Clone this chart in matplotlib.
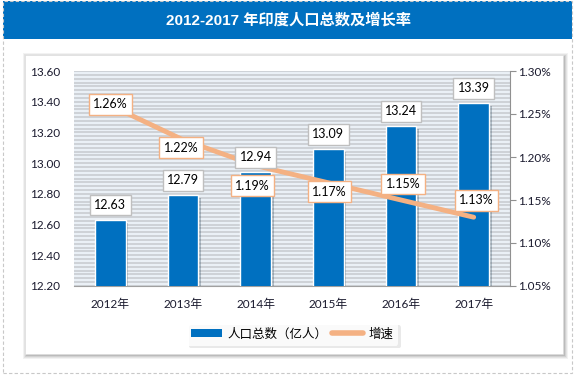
import matplotlib
matplotlib.use("Agg")
import matplotlib.pyplot as plt
from matplotlib.patches import Rectangle, Patch
from matplotlib.lines import Line2D
from matplotlib.ticker import MultipleLocator, FuncFormatter
import matplotlib.patheffects as pe

plt.rcParams['font.family'] = ['Lato', 'Noto Sans CJK SC', 'DejaVu Sans']

years = ['2012年', '2013年', '2014年', '2015年', '2016年', '2017年']
population = [12.63, 12.79, 12.94, 13.09, 13.24, 13.39]
growth = [1.26, 1.22, 1.19, 1.17, 1.15, 1.13]
pop_label = '人口总数（亿人）'
growth_label = '增速'
title = '2012-2017 年印度人口总数及增长率'

BLUE = '#0070C0'
ORANGE = '#F4B183'
W, H = 576, 376

fig = plt.figure(figsize=(W / 100, H / 100), dpi=100)
fig.patch.set_facecolor('white')

def fx(x):
    return x / W

def fy(y):
    return 1 - y / H

# title band
fig.patches.append(Rectangle((fx(3), fy(39)), fx(569), 38 / H, transform=fig.transFigure,
                             facecolor=BLUE, edgecolor='none', zorder=-10))
fig.text(fx(288), fy(20), title, color='white', fontsize=11, fontweight='bold',
         ha='center', va='center', family=['Liberation Sans', 'Noto Sans CJK SC'])
# dashed outer border
fig.patches.append(Rectangle((fx(3), fy(373)), fx(569), 372 / H, transform=fig.transFigure,
                             facecolor='none', edgecolor='#C8C8C8', lw=0.8, ls=(0, (3, 2)), zorder=-10))
# panel shadow
for i, a in enumerate([0.05, 0.06, 0.08, 0.10, 0.12]):
    d = 5 - i
    fig.patches.append(Rectangle((fx(25 - d + 3), fy(354 + d)), fx(538 + 2 * d - 3), (299 + 2 * d - 3) / H,
                                 transform=fig.transFigure, facecolor='#000000', alpha=a,
                                 edgecolor='none', zorder=-9))
fig.patches.append(Rectangle((fx(25), fy(354)), fx(538), 299 / H, transform=fig.transFigure,
                             facecolor='white', edgecolor='#E0E0E0', lw=0.5, zorder=-8))

ax = fig.add_axes([fx(74), fy(286), fx(436), 215 / H])
ax.set_facecolor('#EAF0F6')
x = list(range(len(years)))
bars = ax.bar(x, population, width=0.42, bottom=0, color=BLUE, edgecolor='white', linewidth=1.0,
              zorder=3)
for b in bars:
    b.set_path_effects([pe.SimplePatchShadow(offset=(2, -2), alpha=0.25), pe.Normal()])
ax.set_ylim(12.2, 13.6)
ax.set_xlim(-0.5, 5.5)
ax.yaxis.set_major_locator(MultipleLocator(0.2))
ax.yaxis.set_minor_locator(MultipleLocator(0.025))
ax.yaxis.set_major_formatter(FuncFormatter(lambda v, p: f'{v:.2f}'))
ax.grid(axis='y', which='both', color='#C6CACE', lw=1.1, zorder=1)
ax.set_axisbelow(True)
ax.set_xticks(x)
ax.set_xticklabels(years, fontsize=8.5, color='#1a1a2e')
ax.tick_params(axis='x', length=0, pad=9)
ax.tick_params(axis='y', which='both', length=0, labelsize=8.5, labelcolor='#1a1a2e', pad=10)
for s in ['left', 'top', 'right']:
    ax.spines[s].set_visible(False)
ax.spines['bottom'].set_color('#A0A0A0')

ax2 = ax.twinx()
ax2.plot(x, growth, color=ORANGE, lw=3.5, solid_capstyle='round', zorder=4)
ax2.set_ylim(1.05, 1.30)
ax2.yaxis.set_major_locator(MultipleLocator(0.05))
ax2.yaxis.set_major_formatter(FuncFormatter(lambda v, p: f'{v:.2f}%'))
ax2.tick_params(axis='y', length=4, color='#909090', labelsize=8.5, labelcolor='#1a1a2e', pad=2)
for s in ['left', 'top', 'bottom']:
    ax2.spines[s].set_visible(False)
ax2.spines['right'].set_color('#909090')

# bar labels
for i, v in enumerate(population):
    ax2.annotate(f'{v:.2f}', xy=(i, v), xycoords=ax.transData, xytext=(0, 15),
                 textcoords='offset pixels', ha='center', va='center', fontsize=9, zorder=6,
                 bbox=dict(boxstyle='square,pad=0.35', fc='white', ec='#BFBFBF', lw=1.0))

# line labels
offsets = [(0, 1), (-2, -8), (-3, -20), (1, -9), (2, 16), (3, 17)]
for i, v in enumerate(growth):
    ax2.annotate(f'{v:.2f}%', xy=(i, v), xytext=offsets[i], textcoords='offset pixels',
                 ha='center', va='center', fontsize=9, zorder=6,
                 bbox=dict(boxstyle='square,pad=0.35', fc='white', ec=ORANGE, lw=1.0))

handles = [Patch(facecolor=BLUE, edgecolor='none'),
           Line2D([0], [0], color=ORANGE, lw=4, solid_capstyle='round')]
leg = fig.legend(handles, [pop_label, growth_label], loc='center', bbox_to_anchor=(fx(292), fy(334)),
                 ncol=2, frameon=True, handlelength=2.5, handleheight=0.6,
                 columnspacing=0.4, handletextpad=0.4, borderpad=0.4,
                 prop={'family': ['Noto Sans CJK SC'], 'size': 9})
leg.get_frame().set_edgecolor('none')
leg.get_frame().set_facecolor('white')
leg.get_frame().set_path_effects([pe.SimplePatchShadow(offset=(2, -2), alpha=0.12), pe.Normal()])

fig.savefig('out.png', dpi=100)
